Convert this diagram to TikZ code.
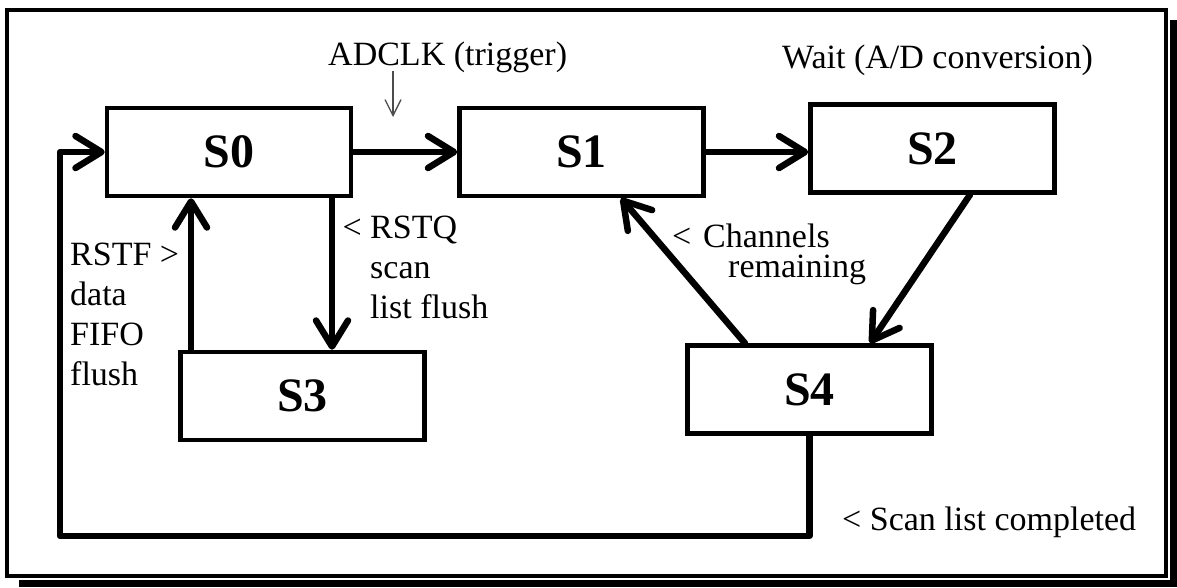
\documentclass[tikz,border=0pt]{standalone}
\usepackage{fontspec}
\setmainfont{Liberation Serif}
\usetikzlibrary{arrows.meta,calc}
\begin{document}
\begin{tikzpicture}[x=1pt,y=-1pt,
  state/.style={draw, line width=4.5pt, minimum width=244pt, minimum height=88pt,
    inner sep=0pt, font=\fontsize{48}{50}\selectfont\bfseries},
  flow/.style={line width=6.5pt, line cap=round, line join=round,
    -{Straight Barb[length=26pt,width=32pt,round]}},
  lbl/.style={anchor=base west, inner sep=0pt, font=\fontsize{34}{40}\selectfont},
  hint/.style={line width=1.3pt, draw=black!70, -{Straight Barb[length=16pt,width=16pt]}}
]
\useasboundingbox (0,0) rectangle (1177,587);

% framed panel with a drop shadow
\fill[black] (19,20) rectangle (1177,587);
\fill[white] (0,0) rectangle (1169.5,579.5);
\draw[line width=3.5pt] (7,10) rectangle (1166,576);

% states
\node[state] (S0) at (229,152) {S0};
\node[state] (S1) at (581.5,152) {S1};
\node[state] (S2) at (932.5,148.5) {S2};
\node[state] (S3) at (302.5,396) {S3};
\node[state] (S4) at (809.5,389.5) {S4};

% transitions
\draw[flow] (S0.east) -- (S1.west);
\draw[flow] (S1.east) -- (S1.east -| S2.west);

\coordinate (q0) at ($(S0.south)+(103,0)$);
\draw[flow] (q0) -- (q0 |- S3.north);
\coordinate (f0) at ($(S3.north)+(-111.5,0)$);
\draw[flow] (f0) -- (f0 |- S0.south);

\draw[flow] ($(S2.south)+(37.5,0)$) -- ($(S4.north)+(60.5,0)$);
\draw[flow] ($(S4.north)+(-64.5,0)$) -- ($(S1.south)+(39.5,0)$);

\coordinate (loopY) at (0,536);
\coordinate (loopX) at (60,0);
\draw[flow] (S4.south) -- (S4.south |- loopY) -- (loopX |- loopY)
  -- (loopX |- S0.west) -- (S0.west);

% labels
\node[lbl] (tClk) at (328,65) {ADCLK (trigger)};
\coordinate (clkTop) at (393,71);
\coordinate (clkTip) at (393,117);
\draw[hint] (clkTop) -- (clkTip);

\node[lbl] (tWait) at (782,68) {Wait (A/D conversion)};

\node[lbl] (tRSTQ) at (370,238)
  {\begin{tabular}[t]{@{}l@{}}\llap{< }RSTQ\\scan\\list flush\end{tabular}};
\node[lbl] (tRSTF) at (70,265)
  {\begin{tabular}[t]{@{}l@{}}RSTF >\\data\\FIFO\\flush\end{tabular}};
\node[lbl] (tChan) at (703,247)
  {\begin{tabular}[t]{@{}l@{}}\llap{<\hspace{12pt}}Channels\\[-10pt]\hspace{25pt}remaining\end{tabular}};
\node[lbl] (tDone) at (842,530) {< Scan list completed};
\end{tikzpicture}
\end{document}
